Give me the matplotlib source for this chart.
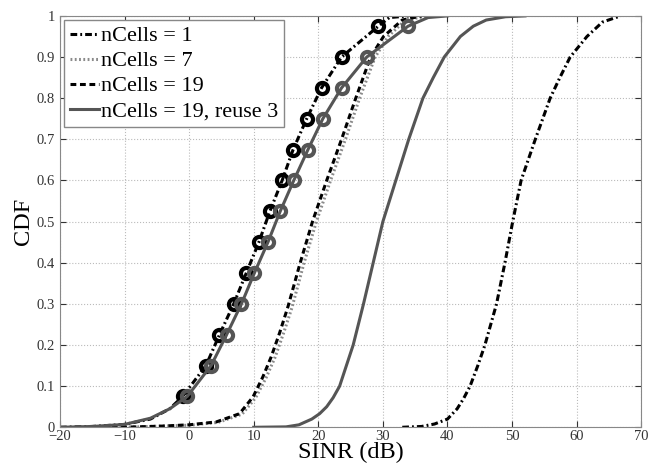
import matplotlib
matplotlib.use("Agg")
import matplotlib.pyplot as plt

plt.rcParams['font.family'] = ['Liberation Serif', 'DejaVu Serif']

# curves (SINR dB, CDF)
x_n1 = [33, 36, 38, 40, 41.5, 42.5, 43.5, 44.7, 45.8, 47.6, 48.9, 50.1, 51.4, 52.5, 53.6, 55.9, 57.4, 59.0, 61.6, 64, 66.8]
y_n1 = [0, 0.002, 0.008, 0.02, 0.045, 0.07, 0.1, 0.15, 0.2, 0.3, 0.4, 0.5, 0.6, 0.65, 0.7, 0.8, 0.85, 0.9, 0.95, 0.985, 1.0]

x_n7 = [-12, -8, -4, 0, 4.5, 8.2, 10.3, 11.9, 13.3, 14.6, 15.9, 17.8, 19.7, 21.9, 24.2, 26.4, 28.8, 30.8, 33.5, 37]
y_n7 = [0, 0.001, 0.003, 0.005, 0.012, 0.032, 0.072, 0.12, 0.17, 0.228, 0.29, 0.4, 0.5, 0.6, 0.7, 0.8, 0.9, 0.95, 0.99, 1.0]

x_n19 = [-12, -8, -4, 0, 4.2, 7.8, 9.9, 11.4, 12.7, 14.0, 15.3, 17.2, 19.1, 21.3, 23.6, 25.8, 28.1, 30.1, 33, 36]
y_n19 = [0, 0.001, 0.003, 0.006, 0.013, 0.033, 0.074, 0.122, 0.171, 0.229, 0.293, 0.4, 0.5, 0.6, 0.7, 0.8, 0.9, 0.95, 0.99, 1.0]

x_r3 = [10, 15, 17, 19, 20.2, 21.3, 22.3, 23.3, 25.4, 27.0, 28.5, 30.0, 32.0, 34.0, 36.2, 37.8, 39.5, 42, 44, 46, 49, 52]
y_r3 = [0, 0.001, 0.006, 0.02, 0.033, 0.05, 0.072, 0.1, 0.2, 0.3, 0.4, 0.5, 0.6, 0.7, 0.8, 0.85, 0.9, 0.95, 0.975, 0.99, 0.998, 1.0]

# left group with circle markers
cdf_marks = [0.075, 0.15, 0.225, 0.3, 0.375, 0.45, 0.525, 0.6, 0.675, 0.75, 0.825, 0.9, 0.975]
x_blk_marks = [-1.0, 2.6, 4.7, 6.9, 8.85, 10.8, 12.5, 14.4, 16.1, 18.2, 20.5, 23.6, 29.3]
x_gry_marks = [-0.3, 3.4, 5.8, 8.1, 10.1, 12.2, 14.1, 16.2, 18.4, 20.7, 23.6, 27.5, 33.9]

x_blk_line = [-20, -15, -10, -6, -3] + x_blk_marks + [31, 34]
y_blk_line = [0, 0.002, 0.007, 0.02, 0.045] + cdf_marks + [0.996, 1.0]
x_gry_line = [-20, -15, -10, -6, -3] + x_gry_marks + [37, 40]
y_gry_line = [0, 0.002, 0.007, 0.022, 0.045] + cdf_marks + [0.996, 1.0]

dark_gray = '#555555'
light_gray = '#8a8a8a'
dashdot = (0, (2.2, 1.0, 0.6, 1.0))
dashed = (0, (1.9, 1.2))
dotted = (0, (0.6, 0.8))

fig = plt.figure(figsize=(6.62, 4.68), dpi=100)
ax = fig.add_axes([0.0906, 0.087, 0.878, 0.879])

l1, = ax.plot(x_n1, y_n1, color='black', ls=dashdot, lw=2.2)
l7, = ax.plot(x_n7, y_n7, color=light_gray, ls=dotted, lw=2.2)
l19, = ax.plot(x_n19, y_n19, color='black', ls=dashed, lw=2.2)
lr3, = ax.plot(x_r3, y_r3, color=dark_gray, ls='-', lw=2.2)

ax.plot(x_blk_line, y_blk_line, color='black', ls=dashdot, lw=2.2)
ax.plot(x_blk_marks, cdf_marks, ls='none', marker='o', ms=8, mfc='none', mec='black', mew=3)
ax.plot(x_gry_line, y_gry_line, color=dark_gray, ls='-', lw=2.2)
ax.plot(x_gry_marks, cdf_marks, ls='none', marker='o', ms=8, mfc='none', mec=dark_gray, mew=3)

ax.set_xlim(-20, 70)
ax.set_ylim(0, 1)
ax.set_xticks(range(-20, 71, 10))
ax.set_yticks([i / 10 for i in range(11)])
ax.set_yticklabels(['0', '0.1', '0.2', '0.3', '0.4', '0.5', '0.6', '0.7', '0.8', '0.9', '1'])
ax.set_xticklabels(['\u221220', '\u221210', '0', '10', '20', '30', '40', '50', '60', '70'])
ax.tick_params(direction='in', length=4, labelsize=10.5, colors='#333333', top=True, right=True)
ax.tick_params(axis='x', pad=2)
ax.grid(True, ls=':', color='#bbbbbb', lw=0.8)
for s in ax.spines.values():
    s.set_color('#888888')

ax.set_xlabel('SINR (dB)', fontsize=17.5, labelpad=-1)
ax.set_ylabel('CDF', fontsize=17.5, labelpad=2)

leg = ax.legend([l1, l7, l19, lr3],
                ['nCells = 1', 'nCells = 7', 'nCells = 19', 'nCells = 19, reuse 3'],
                loc='upper left', fontsize=16, handlelength=1.3, handletextpad=0.1,
                labelspacing=0.2, borderpad=0.25, borderaxespad=0.2,
                fancybox=False, framealpha=1)
leg.get_frame().set_edgecolor('#888888')
leg.get_frame().set_linewidth(1.0)

fig.savefig('out.png', dpi=100)
